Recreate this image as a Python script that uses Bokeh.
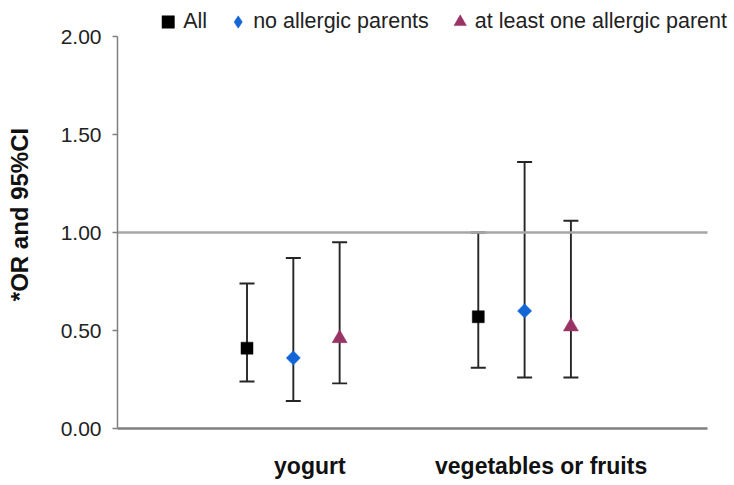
import math
from bokeh.plotting import figure
from bokeh.models import Range1d, Whisker, ColumnDataSource, Legend, LegendItem, FixedTicker, NumeralTickFormatter
from bokeh.embed import file_html
from bokeh.resources import INLINE

# ---- data ----
categories = ["yogurt", "vegetables or fruits"]
series_names = ["All", "no allergic parents", "at least one allergic parent"]
or_all = [0.41, 0.57]
lo_all = [0.24, 0.31]
hi_all = [0.74, 1.00]
or_noalg = [0.36, 0.60]
lo_noalg = [0.14, 0.26]
hi_noalg = [0.87, 1.36]
or_alg = [0.46, 0.52]
lo_alg = [0.23, 0.26]
hi_alg = [0.95, 1.06]
y_ticks = [0.0, 0.5, 1.0, 1.5, 2.0]
ref_value = 1.0

# ---- layout constants ----
group_centers = [2.98, 6.90]
offsets = [-0.785, 0.0, 0.785]
label_shift = 0.28
X_END = 10.0
FONT = "Liberation Sans"
NAN = float("nan")

W, H = 733, 484
LEFT, BOTTOM = 117, 56
frame_w = W - LEFT
frame_h = H - BOTTOM
p = figure(width=W, height=H, output_backend="svg", toolbar_location=None,
           x_range=Range1d(0, frame_w / 59.0), y_range=Range1d(0, 2.0 + 36 / 196.0),
           min_border_left=LEFT, min_border_right=0, min_border_top=0, min_border_bottom=BOTTOM)
p.outline_line_color = None
p.xgrid.visible = False
p.ygrid.visible = False
p.background_fill_color = "white"
p.border_fill_color = "white"

# y axis
ya = p.yaxis[0]
ya.bounds = (0, 2)
ya.ticker = FixedTicker(ticks=y_ticks)
ya.formatter = NumeralTickFormatter(format="0.00")
ya.axis_line_color = "#808080"
ya.axis_line_width = 1.5
ya.major_tick_line_color = "#808080"
ya.major_tick_line_width = 1.5
ya.major_tick_out = 5
ya.major_tick_in = 0
ya.minor_tick_line_color = None
ya.major_label_text_font = FONT
ya.major_label_text_font_size = "21px"
ya.major_label_text_color = "#222222"
ya.major_label_standoff = 11
ya.axis_label = "*OR and 95%CI"
ya.axis_label_text_font = FONT
ya.axis_label_text_font_style = "bold"
ya.axis_label_text_font_size = "24px"
ya.axis_label_text_color = "#111111"
ya.axis_label_standoff = 25

# x axis
xa = p.xaxis[0]
xa.bounds = (0, X_END)
label_pos = [c + label_shift for c in group_centers]
xa.ticker = FixedTicker(ticks=label_pos)
xa.major_label_overrides = {label_pos[i]: categories[i] for i in range(len(categories))}
xa.axis_line_color = "#808080"
xa.axis_line_width = 2.5
xa.major_tick_line_color = None
xa.minor_tick_line_color = None
xa.major_tick_out = 0
xa.major_tick_in = 0
xa.major_label_text_font = FONT
xa.major_label_text_font_style = "bold"
xa.major_label_text_font_size = "23px"
xa.major_label_text_color = "#111111"
xa.major_label_standoff = 24

# reference line at 1.00
p.segment(x0=[0], y0=[ref_value], x1=[X_END], y1=[ref_value], line_color="#a6a6a6", line_width=2.5)

series = [
    (or_all, lo_all, hi_all, "square", "#000000", 12, 0.0, "square"),
    (or_noalg, lo_noalg, hi_noalg, "square", "#1466d6", 10, math.pi / 4, "diamond"),
    (or_alg, lo_alg, hi_alg, "triangle", "#993366", 15, 0.0, "triangle"),
]
items = []
for k, (orv, lo, hi, marker, color, size, ang, leg_marker) in enumerate(series):
    xs = [c + offsets[k] for c in group_centers]
    src = ColumnDataSource(dict(x=xs, y=orv, lo=lo, hi=hi))
    w = Whisker(source=src, base="x", lower="lo", upper="hi", dimension="height",
                line_color="#262626", line_width=1.9)
    w.upper_head.size = 15
    w.lower_head.size = 15
    w.upper_head.line_color = "#262626"
    w.lower_head.line_color = "#262626"
    w.upper_head.line_width = 1.9
    w.lower_head.line_width = 1.9
    p.add_layout(w)
    p.scatter("x", "y", source=src, marker=marker, size=size, angle=ang,
              fill_color=color, line_color=color, line_width=0.5)
    # legend-only proxy (NaN position, never drawn in the plot) for the key's marker shape
    leg_r = p.scatter(x=[NAN], y=[NAN], marker=leg_marker, size=size,
                      fill_color=color, line_color=color, line_width=0.5)
    items.append(LegendItem(label=series_names[k], renderers=[leg_r]))

legend = Legend(items=items, orientation="horizontal", location="top_right",
                label_text_font=FONT, label_text_font_size="21.5px", label_text_color="#222222",
                glyph_width=31, glyph_height=31, label_standoff=-3, spacing=15,
                padding=0, margin=6, border_line_color=None, background_fill_alpha=0)
p.add_layout(legend)

open("out.html", "w").write(file_html(p, INLINE))
